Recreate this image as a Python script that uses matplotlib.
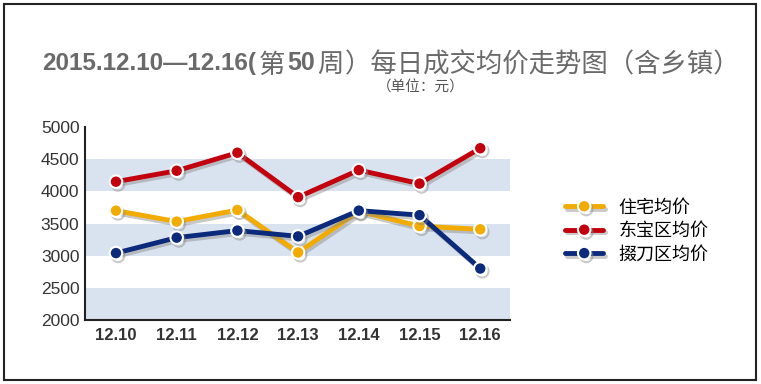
import matplotlib
matplotlib.use("Agg")
import matplotlib.pyplot as plt
import matplotlib.patheffects as pe
from matplotlib.patches import Rectangle

plt.rcParams['font.family'] = ['Liberation Sans', 'Noto Sans CJK SC', 'DejaVu Sans']

# 数据
dates = ['12.10', '12.11', '12.12', '12.13', '12.14', '12.15', '12.16']
zhuzhai = [3700, 3530, 3710, 3050, 3690, 3460, 3410]
dongbao = [4150, 4320, 4600, 3910, 4330, 4120, 4670]
duodao = [3040, 3280, 3390, 3300, 3700, 3630, 2800]
series_names = ['住宅均价', '东宝区均价', '掇刀区均价']
colors = ['#f2ab00', '#c3000d', '#0b2a7c']

W, H = 761, 384
fig = plt.figure(figsize=(W / 100, H / 100), dpi=100)
fig.add_artist(Rectangle((4 / W, 4 / H), 752 / W, 376 / H, transform=fig.transFigure,
                         fill=False, lw=1.5, ec='#222222'))

ax = fig.add_axes([85 / W, 64 / H, 425 / W, 193 / H])

# 背景色带
for lo in (2000, 3000, 4000):
    ax.axhspan(lo, lo + 500, color='#d9e3ef', lw=0, zorder=0)

x = range(len(dates))
shadow = [pe.SimpleLineShadow(offset=(1.5, -2), shadow_color='#888888', alpha=0.45), pe.Normal()]
for vals, c, name in zip([zhuzhai, dongbao, duodao], colors, series_names):
    ax.plot(x, vals, color=c, lw=3.5, marker='o', ms=9, mfc=c, mec='white', mew=1.5,
            label=name, path_effects=shadow, zorder=3, solid_capstyle='round')

ax.set_xlim(-0.51, 6.49)
ax.set_ylim(2000, 5000)
ax.set_yticks(range(2000, 5001, 500))
ax.set_xticks(list(x))
ax.set_xticklabels(dates, fontweight='bold', fontsize=12, color='#333333')
ax.tick_params(axis='y', length=0, labelsize=12.5, labelcolor='#333333', pad=4)
ax.tick_params(axis='x', length=0, pad=6)
for s in ('top', 'right'):
    ax.spines[s].set_visible(False)
for s in ('left', 'bottom'):
    ax.spines[s].set_linewidth(1.5)
    ax.spines[s].set_color('#222222')

leg = ax.legend(loc='center left', bbox_to_anchor=(549 / W, (H - 231) / H),
                bbox_transform=fig.transFigure, frameon=False, handlelength=2.1,
                handletextpad=0.85, labelspacing=0.3,
                prop={'family': ['Noto Sans CJK SC'], 'size': 13})

# 标题：数字部分粗体，中文部分常规
tcol = '#6a6a6a'
def px(xp, yp):
    return xp / W, (H - yp) / H

fig.text(*px(42, 70), '2015.12.10—12.16(', ha='left', va='baseline', fontsize=17.5,
         color=tcol, fontweight='bold', family=['Liberation Sans'])
fig.text(*px(259, 73), '第', ha='left', va='baseline', fontsize=19, color=tcol,
         family=['Noto Sans CJK SC'])
fig.text(*px(287, 70), '50', ha='left', va='baseline', fontsize=18, color=tcol,
         fontweight='bold', family=['Liberation Sans'])
fig.text(*px(317, 73), '周', ha='left', va='baseline', fontsize=19, color=tcol,
         family=['Noto Sans CJK SC'])
fig.text(*px(345, 72), '）每日成交均价走势图（含乡镇）', ha='left', va='baseline',
         fontsize=19, color=tcol, family=['Noto Sans CJK SC'])
fig.text(*px(421, 88), '（单位：元）', ha='center', va='center', fontsize=10.5,
         color='#555555', family=['Noto Sans CJK SC'])

fig.savefig('out.png', dpi=100)
